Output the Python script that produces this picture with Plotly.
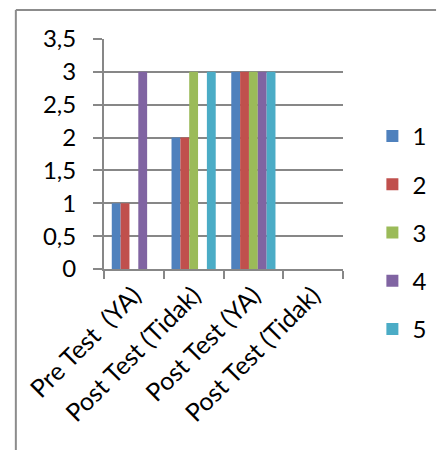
import plotly.graph_objects as go

# Category labels (the last label repeats, as in the source table)
categories = ["Pre Test \u00a0(YA)", "Post Test (Tidak)", "Post Test (YA)", "Post Test (Tidak)"]
positions = [0, 1, 2, 3]

series_names = ["1", "2", "3", "4", "5"]
s1 = [1, 2, 3, 0]
s2 = [1, 2, 3, 0]
s3 = [0, 3, 3, 0]
s4 = [3, 0, 3, 0]
s5 = [0, 3, 3, 0]
series_values = [s1, s2, s3, s4, s5]

colors = ["#4F81BD", "#C0504D", "#9BBB59", "#8064A2", "#4BACC6"]

W, H = 443, 450
L, R, T, B = 104, 348, 39, 269  # plot area in pixels


def px_x(x):
    return (x - L) / (R - L)


def px_y(y):
    return (B - y) / (B - T)


fig = go.Figure()
for i, (name, vals) in enumerate(zip(series_names, series_values)):
    fig.add_trace(go.Bar(
        x=positions, y=vals, name=name,
        marker=dict(color=colors[i], line=dict(width=0)),
        legendgroup=name,
    ))

grid = "#878787"
font = "Lato, 'Open Sans', sans-serif"

fig.update_layout(
    width=W, height=H,
    margin=dict(l=L, r=W - R, t=T, b=H - B),
    paper_bgcolor="white", plot_bgcolor="white",
    barmode="group", bargap=0.26, bargroupgap=0,
    separators=",.",
    font=dict(family=font, size=24, color="black"),
    showlegend=True,
    legend=dict(
        x=px_x(378), y=px_y(114), xanchor="left", yanchor="top",
        font=dict(size=24), tracegroupgap=14, bgcolor="rgba(0,0,0,0)",
        maxheight=420,
    ),
    xaxis=dict(
        range=[-0.5, 3.5], tickvals=positions, ticktext=categories,
        tickangle=-45, ticks="", showgrid=False, zeroline=False,
        showline=True, linecolor=grid, linewidth=2,
        tickfont=dict(size=25),
        minor=dict(tickvals=[-0.5, 0.5, 1.5, 2.5, 3.5], ticks="outside",
                   ticklen=8, tickcolor=grid, tickwidth=2, showgrid=False),
    ),
    yaxis=dict(
        range=[0, 3.5], dtick=0.5, tick0=0,
        showgrid=True, gridcolor=grid, gridwidth=2,
        ticks="outside", ticklen=9, tickcolor=grid, tickwidth=2,
        showline=True, linecolor=grid, linewidth=2, zeroline=False,
        tickfont=dict(size=24), ticklabelstandoff=12,
    ),
    shapes=[
        # outer chart frame (top and left edges)
        dict(type="line", xref="paper", yref="paper",
             x0=px_x(14), x1=px_x(443), y0=px_y(10), y1=px_y(10),
             line=dict(color="#8c8c8c", width=2)),
        dict(type="line", xref="paper", yref="paper",
             x0=px_x(14), x1=px_x(14), y0=px_y(10), y1=px_y(450),
             line=dict(color="#8c8c8c", width=2)),
    ],
)

fig.write_html("out.html")
